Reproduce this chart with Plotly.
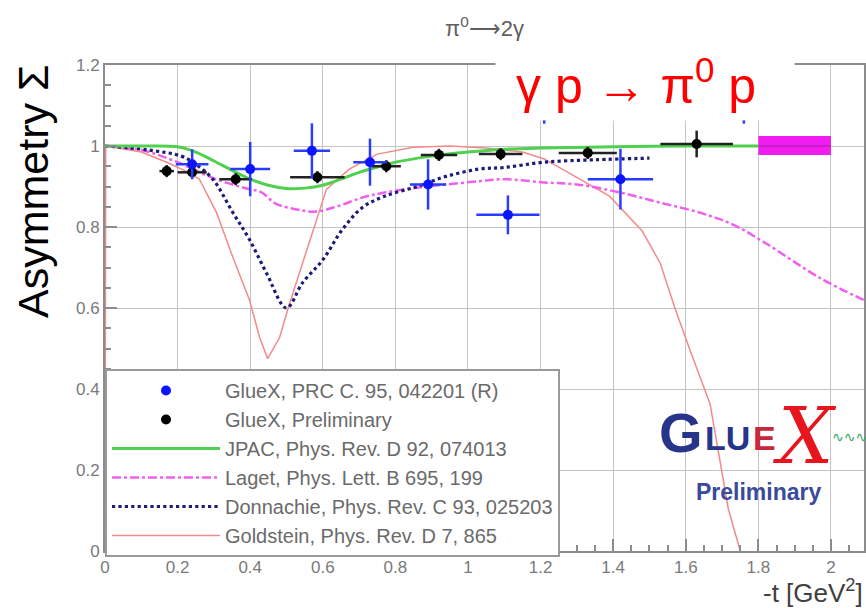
import plotly.graph_objects as go

# ---------------- data ----------------
blue_t = [0.24, 0.40, 0.57, 0.73, 0.89, 1.11, 1.21, 1.42, 1.76]
blue_s = [0.955, 0.943, 0.988, 0.96, 0.905, 0.83, 1.075, 0.918, 1.075]
blue_dt = [0.045, 0.055, 0.05, 0.046, 0.05, 0.087, 0.06, 0.09, 0.06]
blue_ds = [0.037, 0.067, 0.068, 0.058, 0.062, 0.048, 0.02, 0.075, 0.02]

black_t = [0.17, 0.24, 0.36, 0.585, 0.775, 0.92, 1.09, 1.33, 1.63]
black_s = [0.938, 0.935, 0.918, 0.923, 0.95, 0.978, 0.98, 0.983, 1.005]
black_dt = [0.02, 0.04, 0.045, 0.075, 0.04, 0.05, 0.06, 0.08, 0.1]
black_ds = [0.015, 0.015, 0.015, 0.015, 0.015, 0.015, 0.015, 0.015, 0.033]

jpac_t = [0, 0.1, 0.2, 0.25, 0.3, 0.35, 0.4, 0.45, 0.5, 0.55, 0.6, 0.65, 0.7, 0.75,
          0.8, 0.9, 1.0, 1.1, 1.2, 1.4, 1.6, 1.8]
jpac_s = [1.0, 1.0, 0.998, 0.985, 0.963, 0.94, 0.918, 0.903, 0.895, 0.896, 0.903, 0.918,
          0.935, 0.948, 0.96, 0.975, 0.985, 0.992, 0.995, 0.998, 1.0, 1.0]

laget_t = [0, 0.1, 0.2, 0.3, 0.39, 0.43, 0.47, 0.53, 0.58, 0.64, 0.71, 0.77, 0.86, 0.94,
           1.03, 1.1, 1.21, 1.3, 1.42, 1.53, 1.64, 1.73, 1.82, 1.97, 2.09]
laget_s = [1.0, 0.99, 0.96, 0.92, 0.895, 0.886, 0.858, 0.843, 0.838, 0.851, 0.873, 0.885,
           0.897, 0.905, 0.913, 0.918, 0.91, 0.905, 0.885, 0.86, 0.835, 0.806, 0.76, 0.674,
           0.62]

donn_t = [0, 0.12, 0.21, 0.25, 0.297, 0.352, 0.398, 0.445, 0.5, 0.544, 0.6, 0.654, 0.709,
          0.77, 0.86, 0.94, 1.03, 1.1, 1.21, 1.35, 1.5]
donn_s = [1.0, 0.99, 0.975, 0.955, 0.918, 0.836, 0.769, 0.686, 0.6, 0.662, 0.719, 0.794,
          0.848, 0.876, 0.9, 0.925, 0.943, 0.947, 0.96, 0.966, 0.97]

gold_t = [0, 0.002, 0.1, 0.17, 0.23, 0.26, 0.307, 0.352, 0.398, 0.426, 0.448, 0.481, 0.508,
          0.544, 0.582, 0.61, 0.673, 0.75, 0.85, 0.95, 1.05, 1.15, 1.21, 1.3, 1.39,
          1.48, 1.53, 1.57, 1.61, 1.667, 1.717, 1.75]
gold_s = [0.0, 1.0, 0.985, 0.96, 0.935, 0.918, 0.836, 0.726, 0.62, 0.527, 0.475, 0.527, 0.61,
          0.71, 0.81, 0.893, 0.943, 0.98, 0.997, 1.0, 0.995, 0.985, 0.968,
          0.923, 0.876, 0.79, 0.71, 0.6, 0.5, 0.363, 0.105, 0.0]

band_t = [1.8, 2.0]
band_lo = [0.978, 0.978]
band_hi = [1.025, 1.025]
band_mid = [1.0, 1.0]

x_ticks = [0, 0.2, 0.4, 0.6, 0.8, 1.0, 1.2, 1.4, 1.6, 1.8, 2.0]
y_ticks = [0, 0.2, 0.4, 0.6, 0.8, 1.0, 1.2]

legend_names = [
    "GlueX, PRC C. 95, 042201 (R)",
    "GlueX, Preliminary",
    "JPAC, Phys. Rev. D 92, 074013",
    "Laget, Phys. Lett. B 695, 199",
    "Donnachie, Phys. Rev. C 93, 025203",
    "Goldstein, Phys. Rev. D 7, 865",
]

# ---------------- figure ----------------
fig = go.Figure()

# magenta band
fig.add_trace(go.Scatter(x=band_t, y=band_lo, mode="lines", line=dict(width=0, color="#ff00ff"),
                         showlegend=False, hoverinfo="skip"))
fig.add_trace(go.Scatter(x=band_t, y=band_hi, mode="lines", line=dict(width=0, color="#ff00ff"),
                         fill="tonexty", fillcolor="#f01cf0", showlegend=False, hoverinfo="skip"))
fig.add_trace(go.Scatter(x=band_t, y=band_mid, mode="lines", line=dict(width=2, color="#c81ec8"),
                         showlegend=False, hoverinfo="skip"))

fig.add_trace(go.Scatter(x=gold_t, y=gold_s, mode="lines", name=legend_names[5],
                         line=dict(color="#f28a8a", width=1.5), legendrank=6))
fig.add_trace(go.Scatter(x=laget_t, y=laget_s, mode="lines", name=legend_names[3],
                         line=dict(color="#f060f0", width=2.5, dash="dashdot", shape="spline"),
                         legendrank=4))
fig.add_trace(go.Scatter(x=donn_t, y=donn_s, mode="lines", name=legend_names[4],
                         line=dict(color="#1c1c78", width=3.2, dash="dot", shape="spline"),
                         legendrank=5))
fig.add_trace(go.Scatter(x=jpac_t, y=jpac_s, mode="lines", name=legend_names[2],
                         line=dict(color="#4fd04f", width=3, shape="spline"), legendrank=3))

fig.add_trace(go.Scatter(
    x=black_t, y=black_s, mode="markers", name=legend_names[1], legendrank=2,
    marker=dict(color="black", size=10),
    error_x=dict(type="data", array=black_dt, color="#222", thickness=2.5, width=0),
    error_y=dict(type="data", array=black_ds, color="#222", thickness=2.5, width=0),
))
fig.add_trace(go.Scatter(
    x=blue_t, y=blue_s, mode="markers", name=legend_names[0], legendrank=1,
    marker=dict(color="#0a14ff", size=10),
    error_x=dict(type="data", array=blue_dt, color="#2a3cff", thickness=2.5, width=0),
    error_y=dict(type="data", array=blue_ds, color="#2a3cff", thickness=2.5, width=0),
))

axis_common = dict(
    showgrid=True, gridcolor="#c4c4c4", gridwidth=1,
    showline=True, mirror=True, linecolor="#8c8c8c", linewidth=2,
    ticks="inside", ticklen=12, tickcolor="#8c8c8c", tickwidth=1.5,
    tickfont=dict(family="Liberation Sans", size=17, color="#7a7a7a"),
    minor=dict(dtick=0.05, ticks="inside", ticklen=6, tickcolor="#8c8c8c", showgrid=False),
    zeroline=False,
)

fig.update_xaxes(range=[0, 2.091], tickvals=x_ticks, **axis_common)
fig.update_yaxes(range=[0, 1.2], tickvals=y_ticks, **axis_common)


def px(xp):
    return (xp - 105) / 761


def py(yp):
    return (551 - yp) / 486


fig.update_layout(
    width=866, height=608,
    margin=dict(l=105, r=0, t=65, b=57),
    paper_bgcolor="white", plot_bgcolor="white",
    showlegend=True,
    legend=dict(
        x=0.0, y=py(369), xanchor="left", yanchor="top",
        bgcolor="white", bordercolor="#9a9a9a", borderwidth=2,
        font=dict(family="Liberation Sans", size=20, color="#6a6a6a"),
        itemwidth=108, traceorder="normal",
    ),
    annotations=[
        dict(text="π<sup>0</sup>⟶2γ", xref="paper", yref="paper", x=px(486), y=py(27),
             yanchor="middle", showarrow=False,
             font=dict(family="Liberation Sans", size=22, color="#606060")),
        dict(text="Asymmetry Σ", xref="paper", yref="paper", x=-0.094, y=0.74,
             xanchor="center", yanchor="middle", textangle=-90, showarrow=False,
             font=dict(family="Liberation Sans", size=43, color="black")),
        # white box hiding the top of the frame
        dict(text=" ", xref="paper", yref="paper", x=px(646), y=py(86.5),
             xanchor="center", yanchor="middle", showarrow=False,
             bgcolor="white", width=298, height=67, borderpad=0,
             font=dict(family="Liberation Sans", size=12, color="white")),
        dict(text="γ p → π<sup>0</sup> p", xref="paper", yref="paper", x=px(637), y=py(82),
             xanchor="center", yanchor="middle", showarrow=False,
             font=dict(family="Liberation Sans", size=50, color="#ff0000")),
        dict(text="-t [GeV<sup>2</sup>]", xref="paper", yref="paper", x=px(763), y=py(591),
             xanchor="left", yanchor="middle", showarrow=False,
             font=dict(family="Liberation Sans", size=26, color="#404040")),
        # GlueX logo
        dict(text="<b>G</b>", xref="paper", yref="paper", x=px(683), y=py(432),
             xanchor="center", yanchor="middle", showarrow=False,
             font=dict(family="Liberation Sans", size=56, color="#26358a")),
        dict(text="<b>LU</b>", xref="paper", yref="paper", x=px(729), y=py(438),
             xanchor="center", yanchor="middle", showarrow=False,
             font=dict(family="Liberation Sans", size=34, color="#26358a")),
        dict(text="<b>E</b>", xref="paper", yref="paper", x=px(766), y=py(438),
             xanchor="center", yanchor="middle", showarrow=False,
             font=dict(family="Liberation Sans", size=34, color="#c8283c")),
        dict(text="<i>X</i>", xref="paper", yref="paper", x=px(806), y=py(436),
             xanchor="center", yanchor="middle", showarrow=False,
             font=dict(family="DejaVu Serif", size=78, color="#e8141e")),
        dict(text="∿∿∿", xref="paper", yref="paper", x=px(851), y=py(437),
             xanchor="center", yanchor="middle", showarrow=False,
             font=dict(family="DejaVu Sans", size=14, color="#3aa86a")),
        dict(text="<b>Preliminary</b>", xref="paper", yref="paper", x=px(760),
             y=py(492), xanchor="center", yanchor="middle", showarrow=False,
             font=dict(family="Liberation Sans", size=23, color="#3a4a9c")),
    ],
)

fig.write_html("out.html")
